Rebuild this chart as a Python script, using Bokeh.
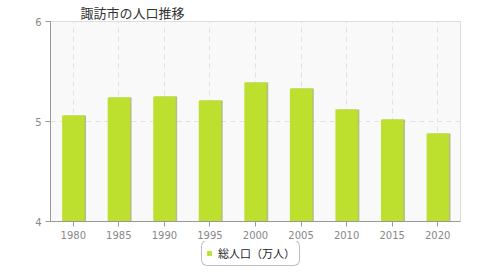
from bokeh.plotting import figure
from bokeh.layouts import column
from bokeh.models import ColumnDataSource, FixedTicker, Legend, LegendItem, Range1d
from bokeh.transform import dodge
from bokeh.embed import file_html
from bokeh.resources import INLINE

years = ["1980", "1985", "1990", "1995", "2000", "2005", "2010", "2015", "2020"]
population = [5.06, 5.24, 5.25, 5.21, 5.39, 5.33, 5.12, 5.02, 4.88]
series_name = "総人口（万人）"
title_text = "諏訪市の人口推移"
y_ticks = [4, 5, 6]
bar_color = "#bde02e"

src = ColumnDataSource(dict(year=years, pop=population))

p = figure(frame_width=410, frame_height=200, x_range=years, y_range=(4, 6),
           output_backend="svg", toolbar_location=None,
           min_border_left=50, min_border_right=20, min_border_top=0,
           min_border_bottom=20)
p.title.text = title_text
p.title.text_font = "Noto Sans CJK JP"
p.title.text_font_size = "13px"
p.title.text_font_style = "normal"
p.title.text_color = "#333333"
p.title.offset = 30
p.title.standoff = 0
p.title.text_line_height = 1.0

p.background_fill_color = "#f9f9f9"
p.border_fill_color = "white"
p.outline_line_color = "#dddddd"

p.vbar(x=dodge("year", 0.035, range=p.x_range), top="pop", bottom=4,
       width=0.49, source=src, fill_color="#9aa650", line_color=None,
       fill_alpha=0.7)
p.vbar(x="year", top="pop", bottom=4, width=0.49, source=src,
       fill_color=bar_color, line_color=None)

p.xgrid.grid_line_color = "#e2e2e2"
p.xgrid.grid_line_dash = "5 4"
p.ygrid.grid_line_color = "#e2e2e2"
p.ygrid.grid_line_dash = "5 4"

p.yaxis.ticker = FixedTicker(ticks=y_ticks)
for ax in (p.xaxis[0], p.yaxis[0]):
    ax.axis_line_color = "#999999"
    ax.major_tick_line_color = "#999999"
    ax.major_tick_out = 5
    ax.major_tick_in = 0
    ax.minor_tick_line_color = None
    ax.major_label_text_color = "#888888"
    ax.major_label_text_font = "DejaVu Sans"
    ax.major_label_text_font_size = "10px"
p.xaxis.major_label_standoff = 4
p.yaxis.major_label_standoff = 4

# legend strip
lg = figure(frame_width=480, frame_height=38, x_range=Range1d(0, 480), y_range=Range1d(0, 38),
            output_backend="svg", toolbar_location=None,
            min_border_left=0, min_border_right=0, min_border_top=0, min_border_bottom=0)
lg.axis.visible = False
lg.grid.visible = False
lg.outline_line_color = None
lg.background_fill_color = "white"
lg.border_fill_color = "white"
dummy = lg.vbar(x=[-100], top=[-100], bottom=[-200], width=1,
                fill_color=bar_color, line_color=None)

main_leg = Legend(items=[LegendItem(label=series_name, renderers=[dummy])],
                  location=(201, 13), orientation="horizontal",
                  label_text_font="Noto Sans CJK JP", label_text_font_size="11px",
                  label_text_color="#222222", glyph_width=6, glyph_height=6,
                  border_radius=6, padding=4, spacing=4, margin=0,
                  label_height=12, label_standoff=6,
                  background_fill_color="white", background_fill_alpha=1,
                  border_line_color="#7a7f95", border_line_width=1)
lg.add_layout(main_leg, "center")

layout = column(p, lg, spacing=0)
open("out.html", "w").write(file_html(layout, INLINE))
